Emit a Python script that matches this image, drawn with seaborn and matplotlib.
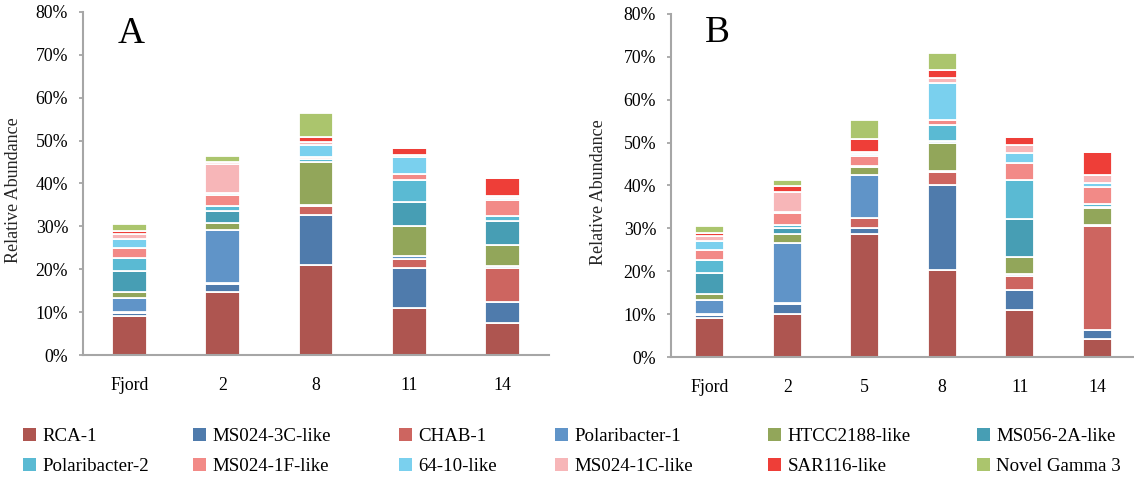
import numpy as np
import pandas as pd
import matplotlib
matplotlib.use("Agg")
import matplotlib.pyplot as plt
from matplotlib.patches import Patch
from matplotlib.ticker import MultipleLocator, PercentFormatter
import seaborn as sns

# Taxa, bottom to top of each stack
taxa = ["RCA-1", "MS024-3C-like", "CHAB-1", "Polaribacter-1",
        "HTCC2188-like", "MS056-2A-like", "Polaribacter-2", "MS024-1F-like",
        "64-10-like", "MS024-1C-like", "SAR116-like", "Novel Gamma 3"]
colors = ["#AE5550", "#4F7BAC", "#CD6560", "#6094C8",
          "#92A65A", "#479EB4", "#5ABAD3", "#F28A87",
          "#7AD0EE", "#F7B6B8", "#EE3E38", "#ABC56D"]

stations_a = ["Fjord", "2", "8", "11", "14"]
stations_b = ["Fjord", "2", "5", "8", "11", "14"]

# Relative abundance (%) of each taxon, in the order of `taxa`
a_fjord = [9.2, 0.5, 0.3, 3.4, 1.4, 4.8, 3.0, 2.3, 2.2, 1.2, 0.7, 1.6]
a_2 = [14.6, 1.9, 0.4, 12.2, 1.6, 2.9, 1.2, 2.6, 0.3, 6.8, 0.4, 1.5]
a_8 = [20.9, 11.7, 2.1, 0.4, 9.8, 0.2, 0.6, 0.4, 2.8, 0.7, 1.2, 5.7]
a_11 = [11.0, 9.3, 2.2, 0.5, 7.0, 5.8, 5.1, 1.4, 3.9, 0.4, 1.7, 0.0]
a_14 = [7.5, 4.9, 7.9, 0.4, 4.9, 5.6, 1.3, 3.6, 0.6, 0.5, 4.0, 0.0]

b_fjord = [9.2, 0.5, 0.3, 3.4, 1.4, 4.8, 3.0, 2.3, 2.2, 1.2, 0.7, 1.6]
b_2 = [10.1, 2.3, 0.3, 13.8, 2.1, 1.6, 0.6, 2.8, 0.2, 4.6, 1.5, 1.3]
b_5 = [28.8, 1.4, 2.3, 10.0, 1.8, 0.1, 0.1, 2.4, 0.4, 0.4, 3.2, 4.3]
b_8 = [20.3, 19.8, 3.0, 0.3, 6.6, 0.4, 3.6, 1.3, 8.6, 1.1, 1.9, 4.0]
b_11 = [11.0, 4.6, 3.2, 0.6, 3.9, 8.9, 9.1, 4.0, 2.2, 1.9, 1.8, 0.0]
b_14 = [4.1, 2.3, 24.1, 0.2, 4.0, 0.3, 0.7, 4.0, 0.8, 1.9, 5.3, 0.0]

panel_a = [a_fjord, a_2, a_8, a_11, a_14]
panel_b = [b_fjord, b_2, b_5, b_8, b_11, b_14]


def long_table(stations, columns):
    rows = []
    for st, vals in zip(stations, columns):
        for tx, v in zip(taxa, vals):
            rows.append({"station": st, "taxon": tx, "value": v / 100.0})
    return pd.DataFrame(rows)


sns.set_style("white")
plt.rcParams["font.family"] = ["Liberation Serif", "DejaVu Serif"]
plt.rcParams["text.color"] = "black"

W, H = 1134, 482
fig = plt.figure(figsize=(W / 100, H / 100), dpi=100)

axis_grey = "#A6A6A6"
palette = dict(zip(taxa, colors))


def draw_panel(rect, stations, columns, letter, letter_xy, ylabel_x):
    ax = fig.add_axes(rect)
    df = long_table(stations, columns)
    sns.histplot(data=df, x="station", hue="taxon", weights="value",
                 multiple="stack", hue_order=taxa[::-1], palette=palette,
                 discrete=True, shrink=0.375, edgecolor="white",
                 linewidth=1.3, alpha=1, legend=False, ax=ax)
    n = len(stations)
    ax.set_xlim(-0.5, n - 0.5)
    ax.set_ylim(0, 0.8)
    ax.yaxis.set_major_locator(MultipleLocator(0.1))
    ax.yaxis.set_major_formatter(PercentFormatter(1.0, decimals=0))
    ax.set_xticks(np.arange(n))
    ax.set_xticklabels(stations)
    ax.set_xticks(np.arange(-0.5, n, 1.0), minor=True)
    ax.tick_params(axis="x", which="major", length=0, pad=15.5,
                   labelsize=12.8, labelcolor="black")
    ax.tick_params(axis="x", which="minor", length=3.2, width=1.3,
                   color=axis_grey, direction="out")
    ax.tick_params(axis="y", length=3.2, width=1.3, color=axis_grey,
                   direction="out", pad=7.5, labelsize=12.8,
                   labelcolor="black", left=True)
    for side in ("top", "right"):
        ax.spines[side].set_visible(False)
    for side in ("left", "bottom"):
        ax.spines[side].set_color(axis_grey)
        ax.spines[side].set_linewidth(1.5)
    ax.set_xlabel("")
    ax.set_ylabel("Relative Abundance", fontsize=13)
    ax.yaxis.set_label_coords(ylabel_x, 0.48)
    ax.text(letter_xy[0], letter_xy[1], letter, transform=ax.transAxes,
            fontsize=27, ha="left", va="center")
    return ax


draw_panel([83 / W, 127 / H, 466 / W, 343 / H], stations_a, panel_a,
           "A", (0.075, 0.937), -0.131)
draw_panel([671 / W, 125 / H, 465 / W, 343 / H], stations_b, panel_b,
           "B", (0.073, 0.945), -0.138)

# Legend: six columns of two entries each
col_x = [23, 193, 399, 555, 768, 977]
for i, x in enumerate(col_x):
    idx = [i, i + 6]
    handles = [Patch(facecolor=colors[j], edgecolor="none") for j in idx]
    labels = [taxa[j] for j in idx]
    fig.legend(handles=handles, labels=labels, loc="center left",
               bbox_to_anchor=(x / W, 1 - 451.5 / H), frameon=False,
               fontsize=13.6, handlelength=0.68, handleheight=0.68,
               handletextpad=0.35, labelspacing=0.64, borderpad=0,
               borderaxespad=0)

fig.savefig("out.png", dpi=100)
